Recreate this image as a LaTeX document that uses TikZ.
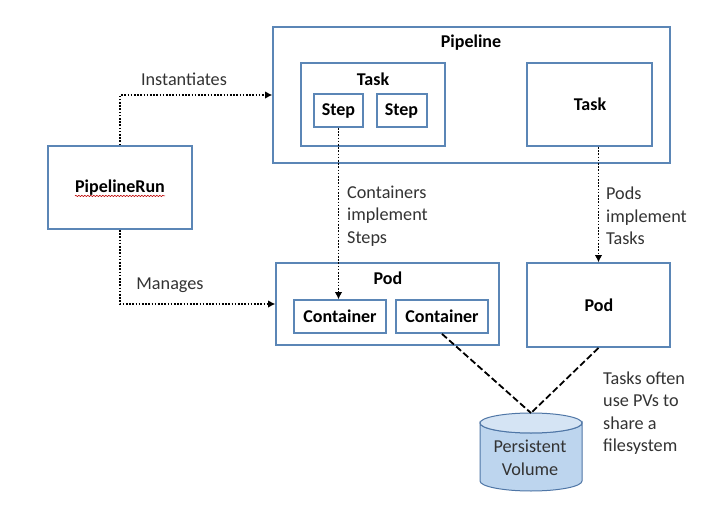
\documentclass[tikz,border=0pt]{standalone}
\usepackage{fontspec}
\setmainfont{Carlito}
\usetikzlibrary{arrows.meta,shadows,decorations.pathmorphing}
\definecolor{boxblue}{HTML}{5B86B6}
\definecolor{cylfill}{HTML}{BDD5EE}
\definecolor{cyltop}{HTML}{D5E4F4}
\definecolor{cylline}{HTML}{4F76A6}
\tikzset{
  x=1pt,y=-1pt,
  boxstyle/.style={draw=boxblue,line width=1.8pt,fill=white,inner sep=0pt,
    drop shadow={opacity=.3,shadow xshift=0.8pt,shadow yshift=-1.4pt}},
  title/.style={font=\fontsize{18}{22}\selectfont\bfseries,text=black,inner sep=0pt},
  label/.style={font=\fontsize{18.2}{22.5}\selectfont,text=black!80,align=left,inner sep=0pt},
  dotline/.style={draw=black,line width=1.8pt,dash pattern=on 1.6pt off 1.6pt,
    -{Latex[length=7pt,width=7pt,line width=0pt]}},
  dashline/.style={draw=black,line width=1.8pt,dash pattern=on 6.5pt off 3pt},
  cylstyle/.style={draw=cylline,line width=1pt},
}
\begin{document}
\begin{tikzpicture}
\useasboundingbox (0,0) rectangle (716,522);
\fill[white] (0,0) rectangle (716,522);
\node[boxstyle,minimum width=144pt,minimum height=83pt] (run) at (120,187.5) {};
\node[boxstyle,minimum width=397pt,minimum height=136pt] (pipeline) at (471.5,95) {};
\node[boxstyle,minimum width=144pt,minimum height=83pt] (task1) at (373,104.5) {};
\node[boxstyle,minimum width=49pt,minimum height=33pt] (step1) at (338.5,110.5) {};
\node[boxstyle,minimum width=50pt,minimum height=33pt] (step2) at (402,110.5) {};
\node[boxstyle,minimum width=125pt,minimum height=83pt] (task2) at (589.5,104.5) {};
\node[boxstyle,minimum width=223pt,minimum height=82pt] (pod1) at (387.5,304) {};
\node[boxstyle,minimum width=92pt,minimum height=33pt] (cont1) at (340,316.5) {};
\node[boxstyle,minimum width=92pt,minimum height=33pt] (cont2) at (442,316.5) {};
\node[boxstyle,minimum width=143pt,minimum height=84pt] (pod2) at (598.5,305) {};

% Persistent volume cylinder
\coordinate (pvtop) at (531,413);
\path[cylstyle,fill=cylfill] (480,423) -- (480,481)
  .. controls (480,486.5) and (503,491) .. (531,491)
  .. controls (559,491) and (582,486.5) .. (582,481) -- (582,423)
  .. controls (582,428.5) and (559,433) .. (531,433)
  .. controls (503,433) and (480,428.5) .. (480,423) -- cycle;
\path[cylstyle,fill=cyltop] (480,423)
  .. controls (480,417.5) and (503,413) .. (531,413)
  .. controls (559,413) and (582,417.5) .. (582,423)
  .. controls (582,428.5) and (559,433) .. (531,433)
  .. controls (503,433) and (480,428.5) .. (480,423) -- cycle;

\node[title] (trun) at (120,188) {PipelineRun};
\draw[red!75!black,line width=.6pt,decorate,decoration={snake,amplitude=.6pt,segment length=3pt}]
  (trun.south west) -- (trun.south east);
\node[title] (tpipe) at (471,43) {Pipeline};
\node[title] (ttask1) at (373,79) {Task};
\node[title] (tstep1) at (338.5,111) {Step};
\node[title] (tstep2) at (401.5,111) {Step};
\node[title] (ttask2) at (590,104) {Task};
\node[title] (tpod1) at (388,278) {Pod};
\node[title] (tcont1) at (340,316.5) {Container};
\node[title] (tcont2) at (442,316.5) {Container};
\node[title] (tpod2) at (599,305) {Pod};

\node[label] (linst) at (184,79) {Instantiates};
\node[label] (lman) at (170,285) {Manages};
\node[label,anchor=west] (lcont) at (347,216) {Containers\\implement\\Steps};
\node[label,anchor=west] (lpods) at (606,216) {Pods\\implement\\Tasks};
\node[label,anchor=west] (lshare) at (603,413) {Tasks often\\use PVs to\\share a\\filesystem};
\node[label,align=center] (lpv) at (530,458) {Persistent\\Volume};

\draw[dotline] (run.north) |- (pipeline.west);
\draw[dotline] (run.south) |- (pod1.west);
\draw[dotline] (step1.south) -- (step1.south |- cont1.north);
\draw[dotline] (pod2.north |- task2.south) -- (pod2.north);
\draw[dashline] (cont2.south) -- (pvtop);
\draw[dashline] (pod2.south) -- (pvtop);
\end{tikzpicture}
\end{document}
